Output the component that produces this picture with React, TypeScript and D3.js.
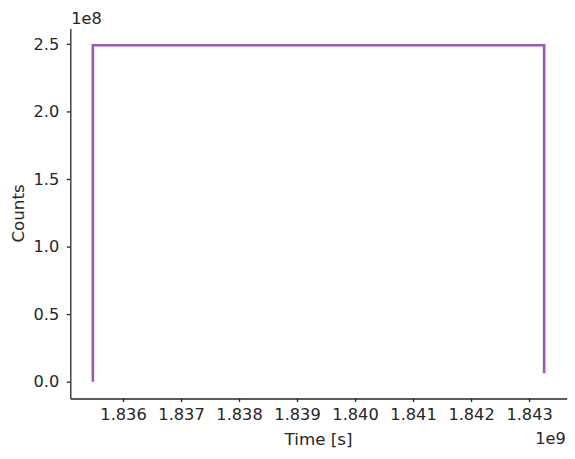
import React from 'react';
import * as d3 from 'd3';

// 측정 데이터 (시간 [s], 카운트)
const times = [1.83548e9, 1.83548e9, 1.84326e9, 1.84326e9];
const counts = [0, 2.49e8, 2.49e8, 6.2e6];

// 눈금
const xTicks = [1.836e9, 1.837e9, 1.838e9, 1.839e9, 1.84e9, 1.841e9, 1.842e9, 1.843e9];
const yTicks = [0, 0.5e8, 1.0e8, 1.5e8, 2.0e8, 2.5e8];

const xLabel = 'Time [s]';
const yLabel = 'Counts';
const xOffsetLabel = '1e9';
const yOffsetLabel = '1e8';

const width = 575;
const height = 459;
const FONT = '"DejaVu Sans", sans-serif';
const INK = '#262626';
const LINE = '#9b59b6';
const TICK_FONT = 16.2;

const App: React.FC = () => {
  const svgRef = React.useRef<SVGSVGElement>(null);

  React.useEffect(() => {
    if (!svgRef.current) return;
    d3.select(svgRef.current).selectAll('*').remove();
    const svg = d3.select(svgRef.current);

    const left = 70.3, right = 566.7, top = 28.4, bottom = 398.5;

    // matplotlib 기본 여백 5%
    const [x0, x1] = d3.extent(times) as [number, number];
    const [y0, y1] = d3.extent(counts) as [number, number];
    const xPad = (x1 - x0) * 0.05;
    const yPad = (y1 - y0) * 0.05;

    const xScale = d3.scaleLinear().domain([x0 - xPad, x1 + xPad]).range([left, right]);
    const yScale = d3.scaleLinear().domain([y0 - yPad, y1 + yPad]).range([bottom, top]);

    // X축
    const gx = svg.append('g')
      .attr('transform', `translate(0,${bottom})`)
      .call(d3.axisBottom(xScale)
        .tickValues(xTicks)
        .tickSizeInner(3.5)
        .tickSizeOuter(0)
        .tickPadding(6.5)
        .tickFormat(d => (+d / 1e9).toFixed(3)));

    // Y축
    const gy = svg.append('g')
      .attr('transform', `translate(${left},0)`)
      .call(d3.axisLeft(yScale)
        .tickValues(yTicks)
        .tickSizeInner(3.5)
        .tickSizeOuter(0)
        .tickPadding(7.5)
        .tickFormat(d => (+d / 1e8).toFixed(1)));

    [gx, gy].forEach(g => {
      g.select('.domain').attr('stroke', INK).attr('stroke-width', 1.3);
      g.selectAll('.tick line').attr('stroke', INK).attr('stroke-width', 1.3);
      g.selectAll('.tick text')
        .attr('fill', INK)
        .style('font-family', FONT)
        .style('font-size', `${TICK_FONT}px`);
    });

    // 선
    const line = d3.line<number>()
      .x((_, i) => xScale(times[i]))
      .y(d => yScale(d));

    svg.append('path')
      .datum(counts)
      .attr('fill', 'none')
      .attr('stroke', LINE)
      .attr('stroke-width', 2.6)
      .attr('stroke-linejoin', 'miter')
      .attr('d', line);

    const addText = (x: number, y: number, txt: string, size: number, anchor: string, rotate = false) =>
      svg.append('text')
        .attr('transform', `translate(${x},${y})${rotate ? ' rotate(-90)' : ''}`)
        .attr('text-anchor', anchor)
        .attr('fill', INK)
        .style('font-family', FONT)
        .style('font-size', `${size}px`)
        .text(txt);

    // 축 라벨
    addText((left + right) / 2, 445, xLabel, 16.7, 'middle');
    addText(24, (top + bottom) / 2, yLabel, 16.7, 'middle', true);

    // 오프셋 표기
    addText(right - 1, 444, xOffsetLabel, TICK_FONT, 'end');
    addText(left + 1, 23.5, yOffsetLabel, TICK_FONT, 'start');
  }, []);

  return (
    <svg
      ref={svgRef}
      width={width}
      height={height}
      style={{ position: 'absolute', left: 0, top: 0, background: '#fff' }}
    />
  );
};

export default App;
